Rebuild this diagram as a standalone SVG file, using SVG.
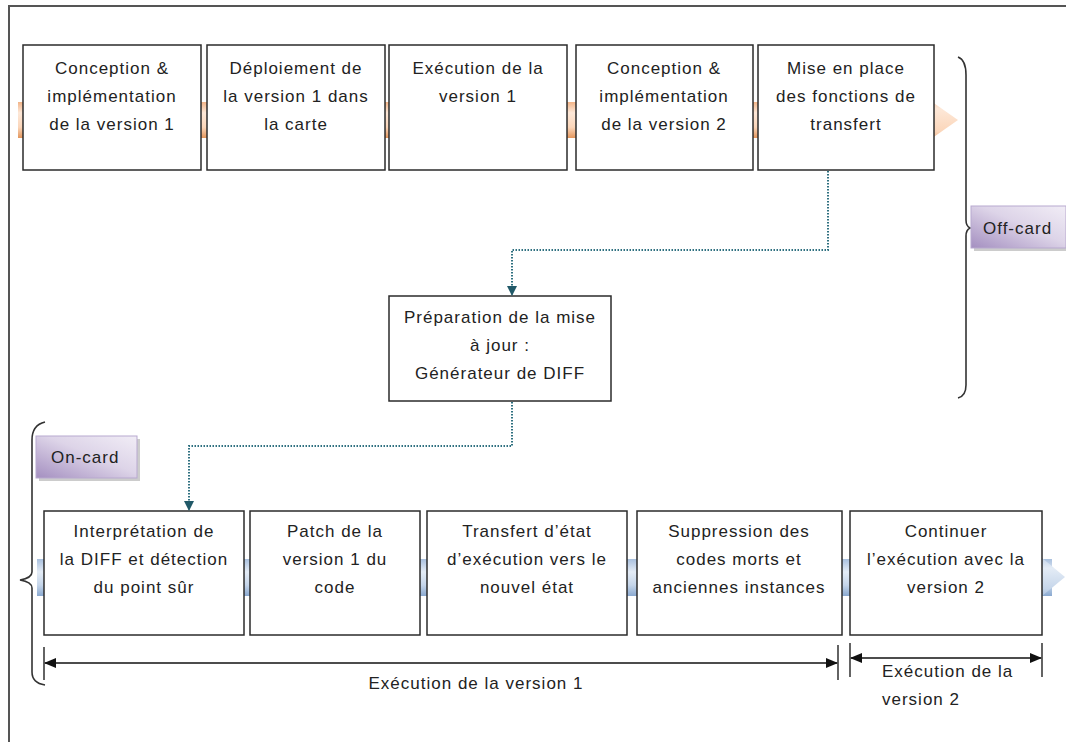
<svg xmlns="http://www.w3.org/2000/svg" width="1066" height="742" viewBox="0 0 1066 742">
<defs>
<style>
.box{fill:#fff;stroke:#2b2b2b;stroke-width:1.5}
.t{font-family:"Liberation Sans",Arial,sans-serif;font-size:17px;letter-spacing:1px;fill:#222;text-anchor:middle}
.tl{font-family:"Liberation Sans",Arial,sans-serif;font-size:17px;letter-spacing:1px;fill:#222}
.brace{fill:none;stroke:#333;stroke-width:1.6}
.dot{fill:none;stroke:#2f7080;stroke-width:2;stroke-dasharray:1.5 1.5}
.dim{stroke:#111;stroke-width:1.3;fill:none}
</style>
<linearGradient id="og" x1="0" y1="0" x2="0" y2="1">
<stop offset="0" stop-color="#f2b488"/>
<stop offset="0.3" stop-color="#fde8d8"/>
<stop offset="0.7" stop-color="#fbd6ba"/>
<stop offset="1" stop-color="#e3965c"/>
</linearGradient>
<linearGradient id="bg" x1="0" y1="0" x2="0" y2="1">
<stop offset="0" stop-color="#a9c0de"/>
<stop offset="0.35" stop-color="#e4ecf6"/>
<stop offset="0.7" stop-color="#c6d6ea"/>
<stop offset="1" stop-color="#8aa9d0"/>
</linearGradient>
<linearGradient id="pg" x1="0" y1="1" x2="1" y2="0">
<stop offset="0" stop-color="#a48fc0"/>
<stop offset="0.55" stop-color="#ddd4e8"/>
<stop offset="1" stop-color="#f1edf6"/>
</linearGradient>
<marker id="ta" markerWidth="10" markerHeight="10" refX="9" refY="5" orient="auto" markerUnits="userSpaceOnUse">
<path d="M0,0 L10,5 L0,10 Z" fill="#215968"/>
</marker>
<marker id="da" markerWidth="12" markerHeight="10" refX="11" refY="5" orient="auto-start-reverse" markerUnits="userSpaceOnUse">
<path d="M0,0 L12,5 L0,10 Z" fill="#111"/>
</marker>
</defs>
<rect width="1066" height="742" fill="#fff"/>
<g id="frame">
<path d="M9,742 V6 H1066" fill="none" stroke="#555" stroke-width="2"/>
</g>
<g id="orange-arrow">
<rect x="18" y="102" width="910" height="36" fill="url(#og)"/>
<path d="M918,92 L958,120 L918,148 Z" fill="url(#og)"/>
</g>
<g id="blue-arrow">
<rect x="37" y="559" width="1015" height="37" fill="url(#bg)"/>
<path d="M1030,548 L1065,577 L1030,606 Z" fill="url(#bg)"/>
</g>
<g id="off-card-brace">
<path class="brace" d="M958,57 Q966,60 966,75 V220 Q966,226 970,228 Q966,230 966,236 V385 Q966,396 958,398"/>
</g>
<g id="on-card-brace">
<path class="brace" d="M45,422 Q32,425 32,440 V572 Q32,578 20,580 Q32,582 32,588 V672 Q32,683 45,685"/>
</g>
<g id="label-offcard">
<rect x="974" y="209" width="95" height="42" fill="#aaa" opacity="0.6"/>
<rect x="971" y="206" width="95" height="42" fill="url(#pg)" stroke="#b8a9cf" stroke-width="1"/>
<text class="tl" x="983" y="234">Off-card</text>
</g>
<g id="label-oncard">
<rect x="39" y="439" width="101" height="42" fill="#aaa" opacity="0.6"/>
<rect x="36" y="436" width="101" height="42" fill="url(#pg)" stroke="#b8a9cf" stroke-width="1"/>
<text class="tl" x="51" y="463">On-card</text>
</g>
<g id="n1"><rect class="box" x="23" y="45" width="178" height="125"/>
<text class="t" x="112" y="74">Conception &amp;</text><text class="t" x="112" y="102">implémentation</text><text class="t" x="112" y="130">de la version 1</text></g>
<g id="n2"><rect class="box" x="207" y="45" width="178" height="125"/>
<text class="t" x="296" y="74">Déploiement de</text><text class="t" x="296" y="102">la version 1 dans</text><text class="t" x="296" y="130">la carte</text></g>
<g id="n3"><rect class="box" x="389" y="45" width="178" height="125"/>
<text class="t" x="478" y="74">Exécution de la</text><text class="t" x="478" y="102">version 1</text></g>
<g id="n4"><rect class="box" x="576" y="45" width="177" height="125"/>
<text class="t" x="664" y="74">Conception &amp;</text><text class="t" x="664" y="102">implémentation</text><text class="t" x="664" y="130">de la version 2</text></g>
<g id="n5"><rect class="box" x="758" y="45" width="176" height="125"/>
<text class="t" x="846" y="74">Mise en place</text><text class="t" x="846" y="102">des fonctions de</text><text class="t" x="846" y="130">transfert</text></g>
<g id="n6"><rect class="box" x="389" y="296" width="222" height="105"/>
<text class="t" x="500" y="323">Préparation de la mise</text><text class="t" x="500" y="351">à jour :</text><text class="t" x="500" y="379">Générateur de DIFF</text></g>
<g id="n7"><rect class="box" x="44" y="511" width="200" height="124"/>
<text class="t" x="144" y="537">Interprétation  de</text><text class="t" x="144" y="565">la DIFF et détection</text><text class="t" x="144" y="593">du point sûr</text></g>
<g id="n8"><rect class="box" x="250" y="511" width="170" height="124"/>
<text class="t" x="335" y="537">Patch de la</text><text class="t" x="335" y="565">version 1 du</text><text class="t" x="335" y="593">code</text></g>
<g id="n9"><rect class="box" x="427" y="511" width="200" height="124"/>
<text class="t" x="527" y="537">Transfert d’état</text><text class="t" x="527" y="565">d’exécution vers le</text><text class="t" x="527" y="593">nouvel état</text></g>
<g id="n10"><rect class="box" x="637" y="511" width="205" height="124"/>
<text class="t" x="739" y="537">Suppression des</text><text class="t" x="739" y="565">codes morts et</text><text class="t" x="739" y="593">anciennes instances</text></g>
<g id="n11"><rect class="box" x="850" y="511" width="192" height="124"/>
<text class="t" x="946" y="537">Continuer</text><text class="t" x="946" y="565">l’exécution avec la</text><text class="t" x="946" y="593">version 2</text></g>
<g id="connectors">
<path class="dot" d="M828,171 V250 H512 V295" marker-end="url(#ta)"/>
<path class="dot" d="M512,402 V446 H189 V510" marker-end="url(#ta)"/>
</g>
<g id="dimensions">
<path class="dim" d="M44,647 V680 M838,645 V680 M850,643 V677 M1042,643 V677"/>
<path class="dim" d="M45,663 H837" marker-start="url(#da)" marker-end="url(#da)"/>
<path class="dim" d="M851,658 H1041" marker-start="url(#da)" marker-end="url(#da)"/>
<text class="t" x="476" y="689">Exécution de la version 1</text>
<text class="tl" x="882" y="677">Exécution de la</text>
<text class="tl" x="882" y="705">version 2</text>
</g>
</svg>
